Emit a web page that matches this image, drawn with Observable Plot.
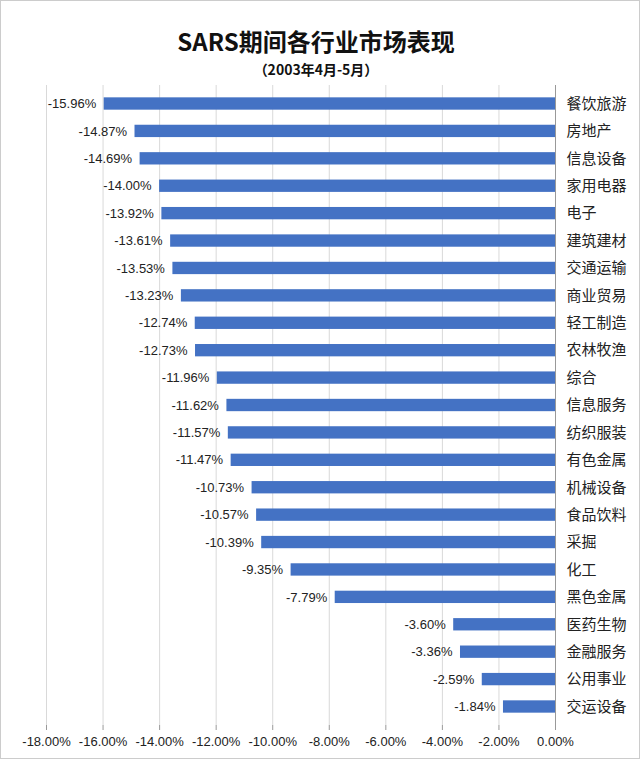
<!DOCTYPE html>
<html><head><meta charset="utf-8">
<script src="https://cdn.jsdelivr.net/npm/d3@7"></script>
<script src="https://cdn.jsdelivr.net/npm/@observablehq/plot@0.6"></script>
<style>
body{margin:0;background:#fff;}
#wrap{width:638px;height:757px;border:1px solid #ccc;position:relative;overflow:hidden;background:#fff;}
h1{margin:0;position:absolute;top:26px;left:0;width:630px;text-align:center;font:bold 24px "Noto Sans CJK SC","Liberation Sans",sans-serif;color:#111;line-height:28px;}
h2{margin:0;position:absolute;top:59px;left:0;width:630px;text-align:center;font:bold 14px "Noto Sans CJK SC","Liberation Sans",sans-serif;color:#111;line-height:18px;}
#chart{position:absolute;top:76px;left:0;}
</style></head><body>
<div id="wrap">
<h1>SARS期间各行业市场表现</h1>
<h2>（2003年4月-5月）</h2>
<div id="chart"></div>
</div>
<script>
const categories = ["餐饮旅游","房地产","信息设备","家用电器","电子","建筑建材","交通运输","商业贸易","轻工制造","农林牧渔","综合","信息服务","纺织服装","有色金属","机械设备","食品饮料","采掘","化工","黑色金属","医药生物","金融服务","公用事业","交运设备"];
const values = [-15.96,-14.87,-14.69,-14.00,-13.92,-13.61,-13.53,-13.23,-12.74,-12.73,-11.96,-11.62,-11.57,-11.47,-10.73,-10.57,-10.39,-9.35,-7.79,-3.60,-3.36,-2.59,-1.84];
const xTicks = [-18,-16,-14,-12,-10,-8,-6,-4,-2,0];
const data = categories.map((c,i)=>({cat:c, v:values[i]}));
const fmt = d => d.toFixed(2) + "%";
const chart = Plot.plot({
  width: 638, height: 681,
  marginTop: 8, marginBottom: 33, marginLeft: 45, marginRight: 84,
  style: {fontFamily: "Liberation Sans, sans-serif", fontSize: "13px", color: "#222"},
  x: {domain: [-18, 0], ticks: xTicks, tickFormat: fmt, label: null, grid: false},
  y: {domain: categories, label: null, paddingInner: 0.55, paddingOuter: 0.45, round: false},
  marks: [
    Plot.ruleX(xTicks, {stroke: "#d9d9d9"}),
    Plot.barX(data, {x: "v", y: "cat", fill: "#4472c4"}),
    Plot.text(data, {x: "v", y: "cat", text: d => fmt(d.v), textAnchor: "end", dx: -8, fontSize: 13, fill: "#222"}),
    Plot.ruleX([0], {stroke: "#999"}),
    Plot.ruleY([0], {frameAnchor: "bottom", stroke: "#999"}),
    Plot.axisX({ticks: xTicks, tickFormat: fmt, tickSize: 5, tickPadding: 6, stroke: "#999", fontSize: 13, fill: "#222"}),
    Plot.axisY({anchor: "right", tickSize: 0, tickPadding: 11, fontSize: 15, fontFamily: "Noto Sans CJK SC", fill: "#222"})
  ]
});
document.getElementById("chart").appendChild(chart);
</script>
</body></html>
